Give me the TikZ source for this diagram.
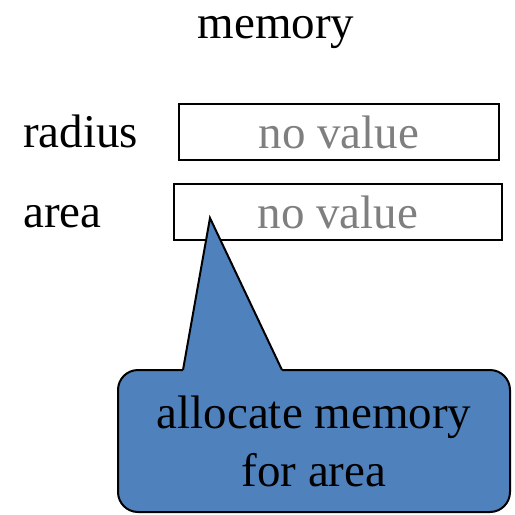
\documentclass[tikz,border=0pt]{standalone}
\usepackage{fontspec}
\setmainfont{Liberation Serif}
\usepackage{tikz}
\definecolor{noteblue}{HTML}{4F81BD}
\definecolor{emptygray}{HTML}{7F7F7F}
\tikzstyle{big} = [font=\fontsize{47}{58}\selectfont, inner sep=0pt]
\tikzstyle{label} = [big, anchor=base west]
\tikzstyle{cell} = [big, draw, line width=2pt, text=emptygray, minimum height=56pt]
\tikzstyle{note} = [big, draw, line width=2pt, fill=noteblue, rounded corners=20pt, align=center,
  minimum width=392pt, minimum height=142pt]

\begin{document}
\begin{tikzpicture}[x=1pt, y=-1pt]
	  \useasboundingbox (0,0) rectangle (515,515);
	  \node (title) at (276,38) [big, anchor=base] {memory};
	  \node (radius) at (23,147) [label] {radius};
	  \node (area) at (23,227) [label] {area};
	  \node (rcell) at (339,132) [cell, minimum width=320pt] {no value};
	  \node (acell) at (338,212) [cell, minimum width=328pt] {no value};
	  \node (alloc) at (314,441) [note] {allocate memory\\for area};

	  \coordinate (tip) at (210,218);
	  \coordinate (baseleft) at (183,370);
	  \coordinate (baseright) at (282,370);
	  \fill [noteblue] (baseleft) -- (tip) -- (baseright) -- ++(0,3) -- ++(-99,0) -- cycle;
	  \draw [line width=2pt, line join=miter] (baseleft) -- (tip) -- (baseright);
	\end{tikzpicture}
\end{document}
